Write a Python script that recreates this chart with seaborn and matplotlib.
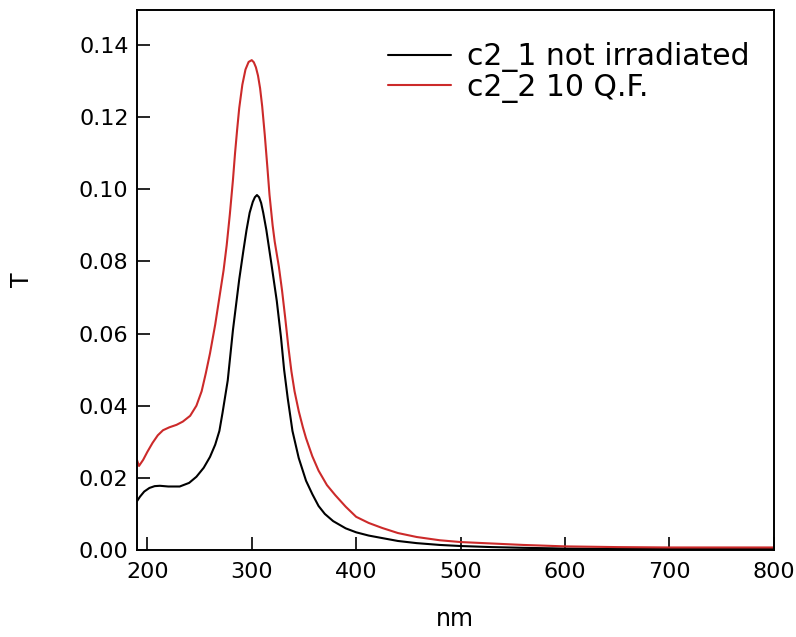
import matplotlib
matplotlib.use("Agg")
import matplotlib.pyplot as plt
import seaborn as sns
import pandas as pd

# wavelength (nm) and T
wl_black = [190, 193, 197, 202, 207, 212, 220, 231, 240, 247, 254, 260, 265, 269, 272,
            277, 282, 288, 292, 295, 298, 301, 303, 305, 307, 309, 311, 314, 319, 324,
            328, 331, 334.5, 339, 345, 352, 358, 364, 370, 378, 390, 400, 412, 425, 440,
            458, 480, 500, 530, 560, 600, 650, 700, 750, 800]
t_black = [0.0135, 0.0148, 0.0162, 0.0172, 0.0177, 0.0178, 0.0176, 0.0176, 0.0186, 0.0203,
           0.0228, 0.0258, 0.0292, 0.0330, 0.0380, 0.0470, 0.0610, 0.0750, 0.0830, 0.0887,
           0.0935, 0.0965, 0.0978, 0.0984, 0.0978, 0.0962, 0.0935, 0.0887, 0.0790, 0.0690,
           0.0590, 0.0500, 0.0420, 0.0330, 0.0255, 0.0192, 0.0155, 0.0122, 0.0100, 0.0080,
           0.0060, 0.0049, 0.0040, 0.0033, 0.0025, 0.0019, 0.0014, 0.0011, 0.0008, 0.0006,
           0.0004, 0.0003, 0.0003, 0.0003, 0.0003]

wl_red = [190, 192, 196, 200, 205, 210, 215, 221, 228, 234, 241, 247, 252, 256, 260, 265,
          269, 273, 276, 279, 282, 284, 286, 288, 291, 294, 297, 300, 302, 304, 306, 308,
          310, 312.5, 315, 317, 320, 322, 326, 329, 332, 335, 338, 341, 345, 349, 352, 358,
          364, 372, 380, 390, 400, 412, 425, 440, 458, 480, 500, 530, 560, 600, 650, 700,
          750, 800]
t_red = [0.0250, 0.0233, 0.0250, 0.0272, 0.0297, 0.0318, 0.0332, 0.0340, 0.0347, 0.0356,
         0.0372, 0.0400, 0.0440, 0.0490, 0.0545, 0.0625, 0.0700, 0.0775, 0.0845, 0.0930,
         0.1026, 0.1100, 0.1165, 0.1225, 0.1290, 0.1332, 0.1353, 0.1358, 0.1352, 0.1338,
         0.1315, 0.1280, 0.1230, 0.1150, 0.1060, 0.0985, 0.0900, 0.0855, 0.0785, 0.0720,
         0.0645, 0.0565, 0.0495, 0.0440, 0.0385, 0.0340, 0.0310, 0.0260, 0.0220, 0.0180,
         0.0152, 0.0120, 0.0092, 0.0075, 0.0061, 0.0047, 0.0036, 0.0027, 0.0022, 0.0018,
         0.0014, 0.0010, 0.0008, 0.0007, 0.0007, 0.0007]

labels = ["c2_1 not irradiated", "c2_2 10 Q.F."]
colors = ["#000000", "#cc2a2a"]

df = pd.concat([
    pd.DataFrame({"nm": wl_black, "T": t_black, "series": labels[0]}),
    pd.DataFrame({"nm": wl_red, "T": t_red, "series": labels[1]}),
])

sns.set_style("ticks")
plt.rcParams["font.family"] = ["DejaVu Sans"]
plt.rcParams["text.color"] = "black"
plt.rcParams["axes.labelcolor"] = "black"

fig = plt.figure(figsize=(7.96, 6.37), dpi=100)
ax = fig.add_axes([0.172, 0.1366, 0.8, 0.8477])

sns.lineplot(data=df, x="nm", y="T", hue="series", palette=colors,
             hue_order=labels, linewidth=1.5, sort=False, estimator=None, ax=ax)

ax.set_xlim(190, 800)
ax.set_ylim(0, 0.1497)
ax.set_xticks([200, 300, 400, 500, 600, 700, 800])
ax.set_yticks([0, 0.02, 0.04, 0.06, 0.08, 0.10, 0.12, 0.14])
ax.set_yticklabels([f"{v:.2f}" for v in ax.get_yticks()])

for s in ax.spines.values():
    s.set_visible(True)
    s.set_color("black")
    s.set_linewidth(1.4)

ax.tick_params(direction="in", length=9.5, width=1.2, labelsize=16, colors="black",
               top=False, right=False)
ax.tick_params(axis="x", pad=9)
ax.tick_params(axis="y", pad=6)

ax.set_xlabel("nm", fontsize=17, labelpad=18)
ax.set_ylabel("T", fontsize=17, labelpad=32)

ax.legend(title=None, frameon=False, fontsize=21.5, loc="upper right",
          bbox_to_anchor=(1.0, 0.985), handlelength=2.1, handletextpad=0.55,
          labelspacing=0.02, borderaxespad=0.4)

fig.savefig("out.png", dpi=100)
